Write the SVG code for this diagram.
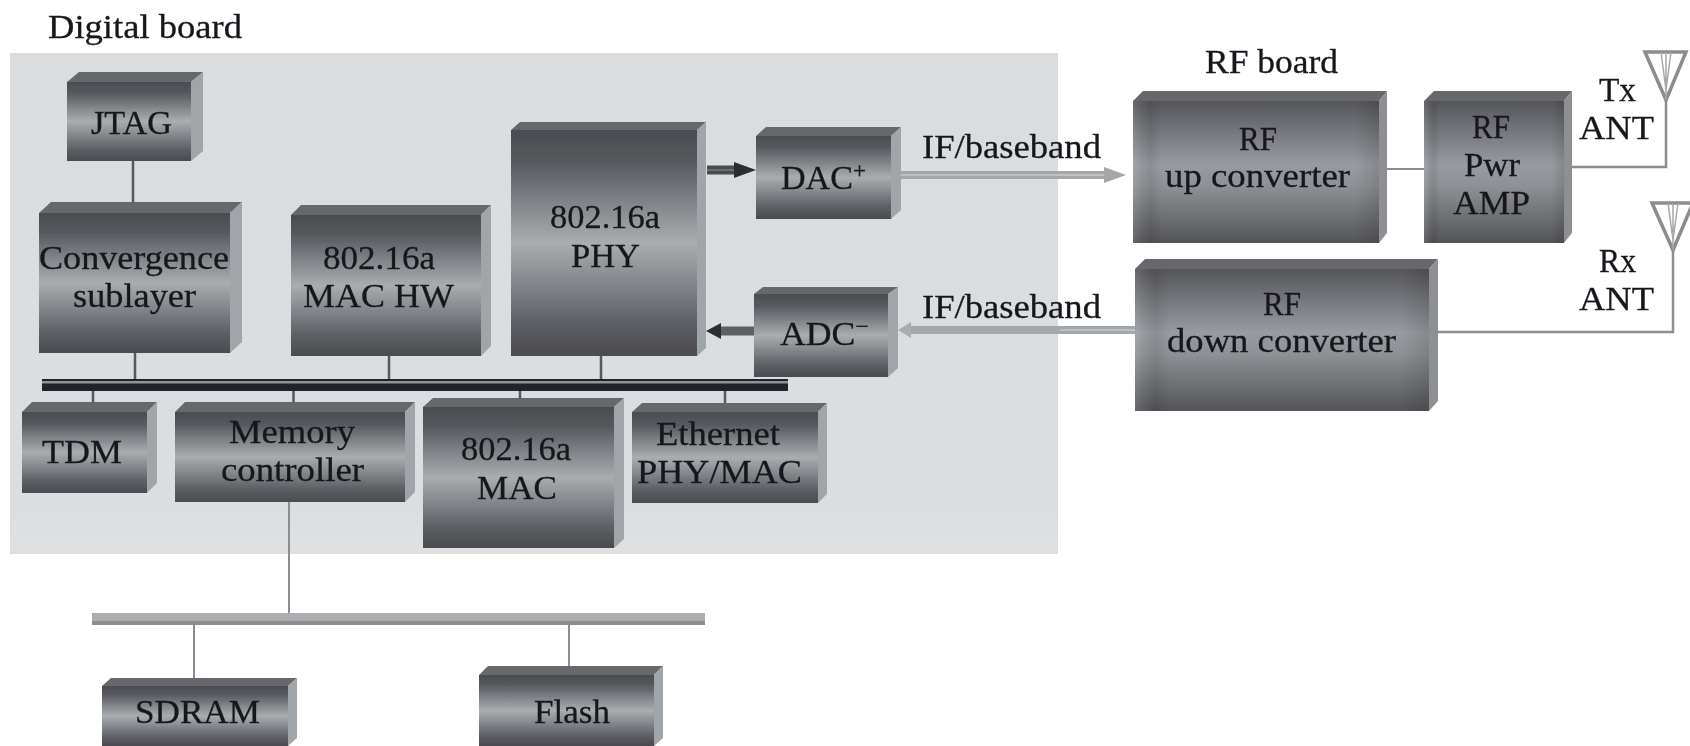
<svg xmlns="http://www.w3.org/2000/svg" width="1690" height="746" viewBox="0 0 1690 746">
<style>
text{font-family:"Liberation Serif","Times New Roman",serif;font-size:34px;fill:#17181c;stroke:#17181c;stroke-width:.3}
.top{fill:#66676c}
.side{fill:#a0a5a9}
.rfside{fill:#8d8f93}
.front{fill:url(#steel)}
.rf{fill:url(#rfsteel)}
.edge{fill:url(#rfedge)}
.wire{stroke:#57595e;stroke-width:2.5;fill:none}
.thin{stroke:#8a8d91;stroke-width:2;fill:none}
.ant{stroke:#8a8c8f;stroke-width:3.500;fill:none}
.antc{stroke:#a5a7aa;stroke-width:1.500;fill:none}
.sig{stroke:#a3a7aa;stroke-width:8;fill:none}
.sigc{stroke:#c6c9cc;stroke-width:1.500;fill:none}
.dark{stroke:#4a4b50;stroke-width:9;fill:none}
.darkc{stroke:#77797d;stroke-width:1.500;fill:none}
</style>
<defs>
<filter id="soft" x="0" y="0" width="100%" height="100%" filterUnits="userSpaceOnUse" primitiveUnits="userSpaceOnUse"><feGaussianBlur stdDeviation=".45"/></filter>
<linearGradient id="board" x1="0" y1="0" x2="0" y2="1"><stop offset="0" stop-color="#dcdcdc"/><stop offset=".05" stop-color="#d9dde0"/><stop offset=".9" stop-color="#dadee1"/><stop offset="1" stop-color="#e0e0e0"/></linearGradient>
<linearGradient id="steel" x1="0" y1="0" x2="0" y2="1"><stop offset="0" stop-color="#4a4c51"/><stop offset=".14" stop-color="#57595e"/><stop offset=".5" stop-color="#a9adb0"/><stop offset=".86" stop-color="#5c5e63"/><stop offset="1" stop-color="#4a4b50"/></linearGradient>
<linearGradient id="rfsteel" x1="0" y1="0" x2="0" y2="1"><stop offset="0" stop-color="#55565b"/><stop offset=".45" stop-color="#989ba0"/><stop offset=".6" stop-color="#8d9094"/><stop offset="1" stop-color="#535458"/></linearGradient>
<linearGradient id="rfedge" x1="0" y1="0" x2="1" y2="0"><stop offset="0" stop-color="#fff" stop-opacity=".1"/><stop offset=".07" stop-color="#000" stop-opacity=".08"/><stop offset=".12" stop-color="#000" stop-opacity="0"/><stop offset=".9" stop-color="#000" stop-opacity="0"/><stop offset="1" stop-color="#000" stop-opacity=".12"/></linearGradient>
<marker id="darkhead" markerUnits="userSpaceOnUse" markerWidth="24" markerHeight="20" refX="0" refY="10" orient="auto"><path d="M0 2 L22 10 L0 18 Z" fill="#2c2d31"/></marker>
<marker id="darkback" markerUnits="userSpaceOnUse" markerWidth="18" markerHeight="20" refX="0" refY="10" orient="auto"><path d="M0 2 L15 10 L0 18 Z" fill="#2c2d31"/></marker>
<marker id="lighthead" markerUnits="userSpaceOnUse" markerWidth="24" markerHeight="20" refX="0" refY="10" orient="auto"><path d="M0 2 L22 10 L0 18 Z" fill="#a3a7aa"/></marker>
<marker id="lightback" markerUnits="userSpaceOnUse" markerWidth="16" markerHeight="20" refX="0" refY="10" orient="auto"><path d="M0 2 L13 10 L0 18 Z" fill="#a9adb0"/></marker>
</defs>

<g id="diagram" filter="url(#soft)">
<rect id="board-bg" x="10" y="53" width="1048" height="501" fill="url(#board)"/>

<g id="connectors">
<path class="wire" d="M133 161V203M135 353V381M389 356V381M601 356V381M93 391V403M293.500 391V403M520 391V399M725 380V404"/>
<path class="thin" d="M289 502V614M194 625V679M569 625V667"/>
<rect id="bus-main" x="42" y="379" width="746" height="12" fill="#232429"/>
<rect x="42" y="381" width="746" height="2.500" fill="#8f9296"/>
<rect id="bus-memory" x="92" y="613" width="613" height="12" fill="#abadaf"/>
<rect x="92" y="621" width="613" height="4" fill="#8b8d90"/>
<path class="dark" d="M707 170H734" marker-end="url(#darkhead)"/>
<path class="darkc" d="M707 170H734"/>
<path class="dark" d="M754 331H721" marker-end="url(#darkback)" style="stroke:#5f6166"/>
<path class="sig" d="M901 175H1104" marker-end="url(#lighthead)"/>
<path class="sigc" d="M901 175H1104"/>
<path class="sig" d="M1135 330H911" marker-end="url(#lightback)"/>
<path class="sigc" d="M1135 330H1060"/>
<path class="thin" d="M1387 169H1424"/>
<path class="thin" style="stroke-width:2.500" d="M1572 167H1666V100M1438 332H1673V250"/>
<path class="ant" d="M1645 52H1686L1666 100Z"/>
<path class="antc" d="M1666 52V100M1661 52L1666 90M1671 52L1666 90"/>
<path class="ant" d="M1652 203H1693L1673 250Z"/>
<path class="antc" d="M1673 203V250M1668 203L1673 240M1678 203L1673 240"/>
</g>

<g id="node-jtag"><polygon class="top" points="67,82 79,72 203,72 191,82"/><polygon class="side" points="191,82 203,72 203,151 191,161"/><rect class="front" x="67" y="82" width="124" height="79"/><text x="91" y="134" textLength="81" lengthAdjust="spacingAndGlyphs">JTAG</text></g>
<g id="node-convergence"><polygon class="top" points="39,213 51,202 242,202 230,213"/><polygon class="side" points="230,213 242,202 242,342 230,353"/><rect class="front" x="39" y="213" width="191" height="140"/><text x="39" y="269" textLength="190" lengthAdjust="spacingAndGlyphs">Convergence</text><text x="73" y="307" textLength="123" lengthAdjust="spacingAndGlyphs">sublayer</text></g>
<g id="node-machw"><polygon class="top" points="291,215 301,205 491,205 481,215"/><polygon class="side" points="481,215 491,205 491,346 481,356"/><rect class="front" x="291" y="215" width="190" height="141"/><text x="323" y="269" textLength="112" lengthAdjust="spacingAndGlyphs">802.16a</text><text x="303" y="307" textLength="151" lengthAdjust="spacingAndGlyphs">MAC HW</text></g>
<g id="node-phy"><polygon class="top" points="511,130 520,122 706,122 697,130"/><polygon class="side" points="697,130 706,122 706,348 697,356"/><rect class="front" x="511" y="130" width="186" height="226"/><text x="550" y="228" textLength="110" lengthAdjust="spacingAndGlyphs">802.16a</text><text x="571" y="267" textLength="69" lengthAdjust="spacingAndGlyphs">PHY</text></g>
<g id="node-dac"><polygon class="top" points="756,136 766,127 901,127 891,136"/><polygon class="side" points="891,136 901,127 901,210 891,219"/><rect class="front" x="756" y="136" width="135" height="83"/><text x="781" y="189" textLength="85" lengthAdjust="spacingAndGlyphs">DAC<tspan dy="-11" font-size="23">+</tspan></text></g>
<g id="node-adc"><polygon class="top" points="754,294 763,287 898,287 888,294"/><polygon class="side" points="888,294 898,287 898,368 888,377"/><rect class="front" x="754" y="294" width="134" height="83"/><text x="780" y="345" textLength="89" lengthAdjust="spacingAndGlyphs">ADC<tspan dy="-11" font-size="23">−</tspan></text></g>
<g id="node-tdm"><polygon class="top" points="22,412 32,402 157,402 147,412"/><polygon class="side" points="147,412 157,402 157,483 147,493"/><rect class="front" x="22" y="412" width="125" height="81"/><text x="42" y="463" textLength="80" lengthAdjust="spacingAndGlyphs">TDM</text></g>
<g id="node-memory"><polygon class="top" points="175,412 185,402 415,402 405,412"/><polygon class="side" points="405,412 415,402 415,492 405,502"/><rect class="front" x="175" y="412" width="230" height="90"/><text x="229" y="443" textLength="126" lengthAdjust="spacingAndGlyphs">Memory</text><text x="221" y="481" textLength="143" lengthAdjust="spacingAndGlyphs">controller</text></g>
<g id="node-mac"><polygon class="top" points="423,407 433,398 624,398 614,407"/><polygon class="side" points="614,407 624,398 624,539 614,548"/><rect class="front" x="423" y="407" width="191" height="141"/><text x="461" y="460" textLength="110" lengthAdjust="spacingAndGlyphs">802.16a</text><text x="477" y="499" textLength="80" lengthAdjust="spacingAndGlyphs">MAC</text></g>
<g id="node-ethernet"><polygon class="top" points="632,412 642,403 827,403 818,412"/><polygon class="side" points="818,412 827,403 827,494 818,503"/><rect class="front" x="632" y="412" width="186" height="91"/><text x="656" y="445" textLength="124" lengthAdjust="spacingAndGlyphs">Ethernet</text><text x="637" y="483" textLength="165" lengthAdjust="spacingAndGlyphs">PHY/MAC</text></g>
<g id="node-sdram"><polygon class="top" points="102,686 111,678 297,678 288,686"/><polygon class="side" points="288,686 297,678 297,738 288,746"/><rect class="front" x="102" y="686" width="186" height="60"/><text x="135" y="723" textLength="125" lengthAdjust="spacingAndGlyphs">SDRAM</text></g>
<g id="node-flash"><polygon class="top" points="479,675 488,666 663,666 654,675"/><polygon class="side" points="654,675 663,666 663,738 654,746"/><rect class="front" x="479" y="675" width="175" height="71"/><text x="534" y="723" textLength="76" lengthAdjust="spacingAndGlyphs">Flash</text></g>
<g id="node-rfup"><polygon class="top" points="1133,101 1143,91 1387,91 1379,101"/><polygon class="rfside" points="1379,101 1387,91 1387,233 1379,243"/><rect class="rf" x="1133" y="101" width="246" height="142"/><rect class="edge" x="1133" y="101" width="246" height="142"/><text x="1239" y="150" textLength="38" lengthAdjust="spacingAndGlyphs">RF</text><text x="1165" y="187" textLength="185" lengthAdjust="spacingAndGlyphs">up converter</text></g>
<g id="node-rfamp"><polygon class="top" points="1424,101 1434,91 1572,91 1564,101"/><polygon class="rfside" points="1564,101 1572,91 1572,233 1564,243"/><rect class="rf" x="1424" y="101" width="140" height="142"/><rect class="edge" x="1424" y="101" width="140" height="142"/><text x="1472" y="138" textLength="38" lengthAdjust="spacingAndGlyphs">RF</text><text x="1464" y="176" textLength="56" lengthAdjust="spacingAndGlyphs">Pwr</text><text x="1453" y="214" textLength="77" lengthAdjust="spacingAndGlyphs">AMP</text></g>
<g id="node-rfdown"><polygon class="top" points="1135,269 1145,259 1438,259 1429,269"/><polygon class="rfside" points="1429,269 1438,259 1438,401 1429,411"/><rect class="rf" x="1135" y="269" width="294" height="142"/><rect class="edge" x="1135" y="269" width="294" height="142"/><text x="1263" y="315" textLength="38" lengthAdjust="spacingAndGlyphs">RF</text><text x="1167" y="352" textLength="229" lengthAdjust="spacingAndGlyphs">down converter</text></g>

<g id="labels">
<text x="48" y="38" textLength="194" lengthAdjust="spacingAndGlyphs">Digital board</text>
<text x="1205" y="73" textLength="133" lengthAdjust="spacingAndGlyphs">RF board</text>
<text x="922" y="158" textLength="179" lengthAdjust="spacingAndGlyphs">IF/baseband</text>
<text x="922" y="318" textLength="179" lengthAdjust="spacingAndGlyphs">IF/baseband</text>
<text x="1599" y="101" textLength="37" lengthAdjust="spacingAndGlyphs">Tx</text>
<text x="1579" y="139" textLength="75" lengthAdjust="spacingAndGlyphs">ANT</text>
<text x="1599" y="272" textLength="37" lengthAdjust="spacingAndGlyphs">Rx</text>
<text x="1579" y="310" textLength="75" lengthAdjust="spacingAndGlyphs">ANT</text>
</g>
</g>
</svg>
